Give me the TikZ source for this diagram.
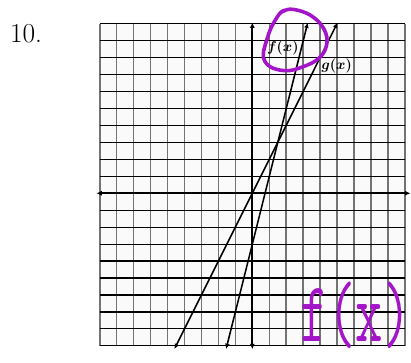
\documentclass[tikz,border=0pt]{standalone}
\usepackage{tikz}
\usetikzlibrary{
	arrows.meta,
	positioning
}
\definecolor{marcador}{HTML}{A414C8}

\begin{document}
\begin{tikzpicture}[x=0.5cm, y=0.5cm,
  rejillav/.style={draw=black!55, line width=1.3pt},
  rejillah/.style={draw=black, line width=1pt},
  eje/.style={{Latex[length=1.6mm,width=1.5mm]}-{Latex[length=1.6mm,width=1.5mm]}, line width=1.7pt},
  recta/.style={{Latex[length=1.6mm,width=1.4mm]}-{Latex[length=1.6mm,width=1.4mm]}, line width=1.3pt},
  etiqueta/.style={font=\fontsize{12}{14}\selectfont\boldmath, inner sep=0pt},
  marca/.style={draw=marcador, line width=3pt, line cap=round}
]
\useasboundingbox (-14.885,-10.01) rectangle (9.36,11.40);
\fill[black!2] (-9,-9) rectangle (9,10);
% cuadricula
\foreach \i in {-9,...,9}
  \draw[rejillav] (\i,-9) -- (\i,10);
\foreach \j in {-9,...,10}
  \draw[rejillah] (-9,\j) -- (9,\j);
% ejes
\coordinate (xizq) at (-9.2,0);
\coordinate (xder) at (9.33,0);
\coordinate (yinf) at (0,-9.2);
\coordinate (ysup) at (0,10.07);
\draw[eje] (xizq) -- (xder);
\draw[eje] (yinf) -- (ysup);
% f(x) = 4x - 3 y g(x) = 2x
\coordinate (finf) at (-1.55,-9.2);
\coordinate (fsup) at (3.27,10.07);
\coordinate (ginf) at (-4.6,-9.2);
\coordinate (gsup) at (5.03,10.07);
\draw[recta] (finf) -- (fsup);
\draw[recta] (ginf) -- (gsup);
\node[etiqueta] (fx) at (1.8,8.57) {$f(x)$};
\node[etiqueta] (gx) at (4.98,7.51) {$g(x)$};
\node[font=\fontsize{23}{26}\selectfont, inner sep=0pt] (num) at (-13.35,9.44) {10.};
% anotaciones a mano
\draw[marca] plot[smooth, tension=0.6] coordinates {(1.63,10.62) (2.22,10.86) (3.21,10.62) (3.99,10.03) (4.39,9.24)
  (4.29,8.45) (3.80,7.86) (3.01,7.47) (2.12,7.23) (1.24,7.37) (0.75,7.76) (0.65,8.26)
  (0.85,9.04) (1.14,9.83) (1.63,10.62) (1.95,10.80)};
\node[text=marcador, font=\fontsize{72}{72}\selectfont\ttfamily, xscale=0.62, inner sep=0pt] (fxm) at (6.1,-7.2) {f(x)};
\end{tikzpicture}
\end{document}
